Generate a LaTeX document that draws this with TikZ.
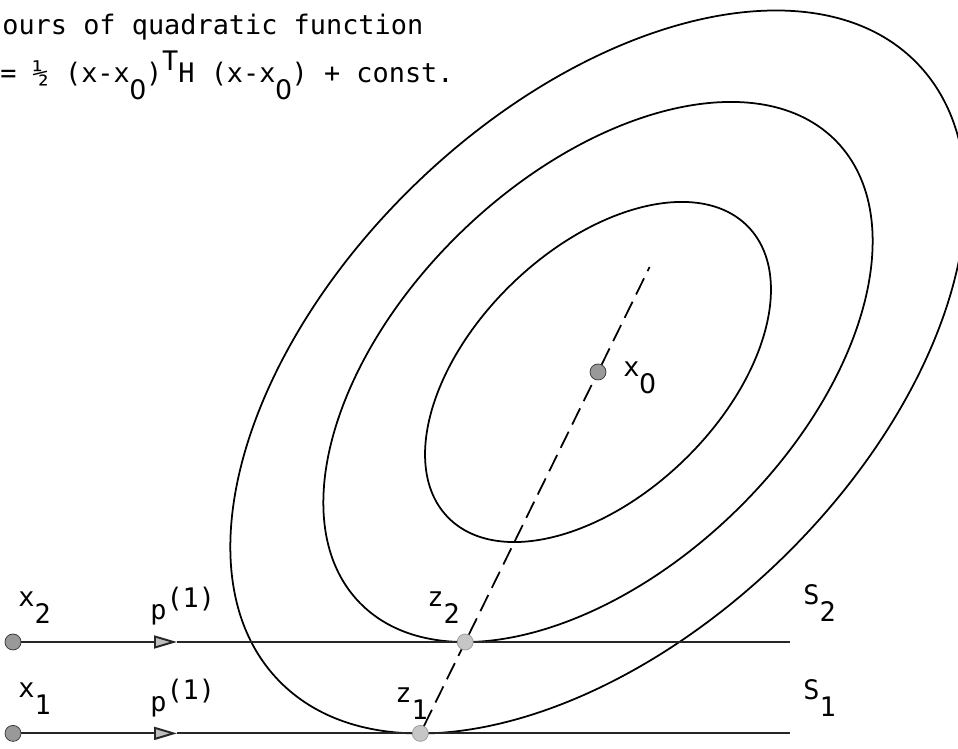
\documentclass[tikz,border=0pt]{standalone}
\usepackage{fontspec}
\setmonofont{DejaVu Sans Mono}
\newfontfamily\plainzero{DejaVu Sans}
\usetikzlibrary{arrows.meta}
\newcommand\tdown[1]{\raisebox{-0.6em}{#1}}
\newcommand\tup[1]{\raisebox{0.45em}{#1}}
\newcommand\zr{\makebox[0.602em]{\plainzero 0}}
\tikzset{
  lbl/.style={anchor=base west, inner sep=0pt, font=\ttfamily\fontsize{15.3}{18}\selectfont},
  pt/.style={circle, draw=black!80, fill=gray!80, inner sep=0pt, minimum size=3.2mm},
  ptlight/.style={circle, draw=gray!80, fill=gray!45, inner sep=0pt, minimum size=3.2mm},
  contour/.style={line width=1pt},
  level/.style={line width=1.1pt, black!85},
  dashline/.style={line width=1pt, dash pattern=on 3.6mm off 1.6mm},
}
\begin{document}
\begin{tikzpicture}[x=0.2mm,y=0.2mm]
\useasboundingbox (0,0) rectangle (958,749);
% contours round x0
\draw[contour, rotate around={44:(598,377)}] (598,377) ellipse [x radius=444, y radius=262];
\draw[contour, rotate around={44:(598,377)}] (598,377) ellipse [x radius=331.7, y radius=195.7];
\draw[contour, rotate around={44:(598,377)}] (598,377) ellipse [x radius=208.9, y radius=123.2];
% points
\node[pt] (x0) at (598,377) {};
\node[pt] (x2) at (13,107) {};
\node[pt] (x1) at (13,15.6) {};
\node[ptlight] (z2) at (465.2,107) {};
\node[ptlight] (z1) at (420.3,15.6) {};
\coordinate (a2) at (177,107);
\coordinate (a1) at (177,15.6);
\coordinate (e2) at (790,107);
\coordinate (e1) at (790,15.6);
\coordinate (dtop) at (649.6,482);
% lines S2 and S1
\draw[level, -{Triangle[length=4.6mm, width=2.6mm, fill=gray!50]}] (x2) -- (a2);
\draw[level] (a2) -- (z2);
\draw[level] (z2) -- (e2);
\draw[level, -{Triangle[length=4.6mm, width=2.6mm, fill=gray!50]}] (x1) -- (a1);
\draw[level] (a1) -- (z1);
\draw[level] (z1) -- (e1);
% line through x0
\draw[dashline] (z1) -- (z2);
\draw[dashline] (z2) -- (x0);
\draw[dashline] (x0) -- (dtop);
% texts
\node[lbl] (t1) at (2,714) {ours of quadratic function};
\node[lbl] (t2) at (0,666) {= ½ (x-x\tdown{\zr})\tup{T}H (x-x\tdown{\zr}) + const.};
\node[lbl] (lx0) at (623,372) {x\tdown{\zr}};
\node[lbl] (lx2) at (18,142) {x\tdown{2}};
\node[lbl] (lx1) at (18,51) {x\tdown{1}};
\node[lbl] (lp2) at (150,129) {p\tup{(1)}};
\node[lbl] (lp1) at (150,37) {p\tup{(1)}};
\node[lbl] (lz2) at (427,142) {z\tdown{2}};
\node[lbl] (lz1) at (395,46) {z\tdown{1}};
\node[lbl] (lS2) at (803,144) {S\tdown{2}};
\node[lbl] (lS1) at (803,49) {S\tdown{1}};
\end{tikzpicture}
\end{document}
